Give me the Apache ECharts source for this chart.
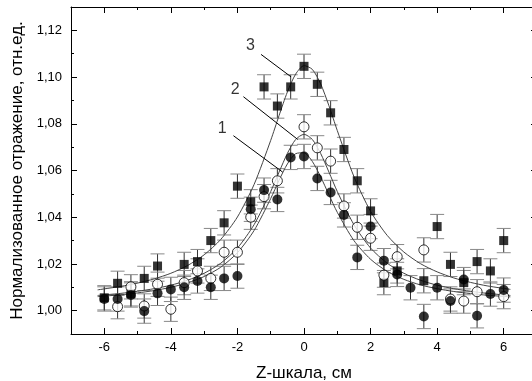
<!DOCTYPE html>
<html>
<head>
    <meta charset="utf-8" />
    <title>Нормализованное отражение</title>
    <script src="https://cdn.jsdelivr.net/npm/echarts@6/dist/echarts.min.js"></script>
    <style>
        html, body { margin: 0; padding: 0; background: #fff; }
    </style>
</head>
<body>
<div id="main" style="width: 532px;height:381px;"></div>
<script type="text/javascript">
    // Z positions of the measured points, cm
    var zPos = [-6, -5.6, -5.2, -4.8, -4.4, -4.0, -3.6, -3.2, -2.8, -2.4, -2.0, -1.6, -1.2, -0.8, -0.4,
        0, 0.4, 0.8, 1.2, 1.6, 2.0, 2.4, 2.8, 3.2, 3.6, 4.0, 4.4, 4.8, 5.2, 5.6, 6.0];
    // 1 - filled circles
    var curve1Pts = [1.0050, 1.0050, 1.0067, 0.9998, 1.0074, 1.0091, 1.0100, 1.0127, 1.0100, 1.0138, 1.0148, 1.0434, 1.0516, 1.0476, 1.0656,
        1.0660, 1.0566, 1.0506, 1.0410, 1.0228, 1.0360, 1.0214, 1.0155, 1.0098, 0.9975, 1.0098, 1.0041, 1.0133, 0.9978, 1.0071, 1.0088];
    // 2 - open circles
    var curve2Pts = [null, 1.0017, 1.0102, 1.0020, 1.0113, 1.0006, 1.0120, 1.0170, 1.0138, 1.0250, 1.0250, 1.0400, 1.0488, 1.0556, null,
        1.0787, 1.0697, 1.0640, 1.0448, 1.0357, 1.0310, 1.0152, 1.0231, null, 1.0260, null, 1.0050, 1.0041, 1.0081, null, 1.0060];
    // 3 - squares
    var curve3Pts = [1.0055, 1.0117, 1.0072, 1.0138, 1.0191, null, 1.0198, 1.0210, 1.0300, 1.0376, 1.0533, 1.0466, 1.0958, 1.0876, 1.0958,
        1.1046, 1.0969, 1.0847, 1.0690, 1.0556, 1.0427, 1.0120, 1.0170, null, 1.0128, 1.0360, 1.0198, 1.0120, 1.0210, 1.0170, 1.0300];
    var errBar = 0.0052;

    // fitted curves
    var fitX = [-6.2, -5.5, -5, -4.5, -4, -3.5, -3, -2.5, -2, -1.5, -1, -0.75, -0.5, -0.25, 0, 0.25, 0.5, 0.75,
        1, 1.5, 2, 2.5, 3, 3.5, 4, 4.5, 5, 5.5, 6.2];
    var fit1 = [1.0060, 1.0068, 1.0076, 1.0086, 1.0100, 1.0119, 1.0146, 1.0186, 1.0248, 1.0343, 1.0480, 1.0558, 1.0628, 1.0672, 1.0676, 1.0639, 1.0573, 1.0496,
        1.0421, 1.0300, 1.0220, 1.0168, 1.0134, 1.0110, 1.0094, 1.0082, 1.0073, 1.0066, 1.0059];
    var fit2 = [1.0065, 1.0074, 1.0083, 1.0094, 1.0109, 1.0130, 1.0160, 1.0203, 1.0268, 1.0368, 1.0510, 1.0593, 1.0673, 1.0733, 1.0755, 1.0733, 1.0673, 1.0593,
        1.0510, 1.0368, 1.0268, 1.0203, 1.0160, 1.0130, 1.0109, 1.0094, 1.0083, 1.0074, 1.0065];
    var fit3 = [1.0089, 1.0104, 1.0118, 1.0136, 1.0160, 1.0193, 1.0239, 1.0305, 1.0401, 1.0540, 1.0729, 1.0835, 1.0936, 1.1013, 1.1049, 1.1033, 1.0971, 1.0877,
        1.0771, 1.0574, 1.0425, 1.0322, 1.0251, 1.0201, 1.0166, 1.0140, 1.0121, 1.0106, 1.0091];

    // curve numbers with leader lines: text pos, line start, line end
    var tagNames = ['1', '2', '3'];
    var tagText = [[-2.46, 1.0780], [-2.07, 1.0947], [-1.61, 1.1133]];
    var tagFrom = [[-2.12, 1.0749], [-1.82, 1.0916], [-1.29, 1.1097]];
    var tagTo = [[-0.64, 1.0593], [-0.19, 1.0733], [-0.39, 1.1001]];

    // axis ticks
    var xMajor = [-6, -4, -2, 0, 2, 4, 6];
    var xMinor = [-5, -3, -1, 1, 3, 5];
    var yMajor = [1.00, 1.02, 1.04, 1.06, 1.08, 1.10, 1.12];
    var yMinor = [1.01, 1.03, 1.05, 1.07, 1.09, 1.11];

    var FONT = 'Liberation Sans, Arial, sans-serif';

    function pairs(xs, ys) {
        var out = [];
        for (var i = 0; i < xs.length; i++) {
            if (ys[i] !== null) out.push([xs[i], ys[i]]);
        }
        return out;
    }
    function errData(ys) {
        var out = [];
        for (var i = 0; i < zPos.length; i++) {
            if (ys[i] !== null) out.push([zPos[i], ys[i], errBar]);
        }
        return out;
    }
    function renderErr(params, api) {
        var x = api.value(0), y = api.value(1), e = api.value(2);
        var top = api.coord([x, y + e]);
        var bot = api.coord([x, y - e]);
        var hw = 7;
        return {
            type: 'group',
            children: [
                {type: 'line', shape: {x1: top[0], y1: top[1], x2: bot[0], y2: bot[1]}, style: {stroke: '#333', lineWidth: 1}},
                {type: 'line', shape: {x1: top[0] - hw, y1: top[1], x2: top[0] + hw, y2: top[1]}, style: {stroke: '#888', lineWidth: 1}},
                {type: 'line', shape: {x1: bot[0] - hw, y1: bot[1], x2: bot[0] + hw, y2: bot[1]}, style: {stroke: '#888', lineWidth: 1}}
            ]
        };
    }

    function xAx(pos, major, labels) {
        return {
            type: 'value', position: pos, min: -7, max: 7, interval: 1,
            axisLine: {show: major, onZero: false, lineStyle: {color: '#000', width: 1}},
            axisTick: {show: true, inside: true, length: major ? 6 : 3, customValues: major ? xMajor : xMinor,
                lineStyle: {color: '#000'}},
            axisLabel: {show: labels, customValues: xMajor, color: '#000', fontSize: 13, fontFamily: FONT, margin: 7},
            splitLine: {show: false},
            name: labels ? 'Z-шкала, см' : '',
            nameLocation: 'middle', nameGap: 31,
            nameTextStyle: {color: '#000', fontSize: 17, fontFamily: FONT}
        };
    }
    function yAx(pos, major, labels) {
        return {
            type: 'value', position: pos, min: 0.99, max: 1.13, interval: 0.01,
            axisLine: {show: major, onZero: false, lineStyle: {color: '#000', width: 1}},
            axisTick: {show: true, inside: true, length: major ? 6 : 3, customValues: major ? yMajor : yMinor,
                lineStyle: {color: '#000'}},
            axisLabel: {show: labels, customValues: yMajor, color: '#000', fontSize: 13, fontFamily: FONT, margin: 9,
                formatter: function (v) { return v.toFixed(2).replace('.', ','); }},
            splitLine: {show: false},
            name: labels ? 'Нормализованное отражение, отн.ед.' : '',
            nameLocation: 'middle', nameGap: 37,
            nameTextStyle: {color: '#000', fontSize: 17, fontFamily: FONT}
        };
    }

    var series = [];
    [curve3Pts, curve2Pts, curve1Pts].forEach(function (ys) {
        series.push({type: 'custom', renderItem: renderErr, data: errData(ys), encode: {x: 0, y: 1}, silent: true, z: 2});
    });
    [fit1, fit2, fit3].forEach(function (ys) {
        series.push({type: 'line', data: pairs(fitX, ys), smooth: 0.25, symbol: 'none',
            lineStyle: {color: '#444', width: 1}, silent: true, z: 3});
    });
    series.push({type: 'scatter', data: pairs(zPos, curve3Pts), symbol: 'rect', symbolSize: 9,
        itemStyle: {color: '#000'}, z: 4});
    series.push({type: 'scatter', data: pairs(zPos, curve2Pts), symbol: 'circle', symbolSize: 10,
        itemStyle: {color: '#fff', borderColor: '#000', borderWidth: 1}, z: 4});
    series.push({type: 'scatter', data: pairs(zPos, curve1Pts), symbol: 'circle', symbolSize: 10,
        itemStyle: {color: '#000'}, z: 4});
    for (var k = 0; k < tagNames.length; k++) {
        series.push({type: 'line', data: [tagFrom[k], tagTo[k]], symbol: 'none',
            lineStyle: {color: '#000', width: 1}, silent: true, z: 5});
        series.push({type: 'scatter', data: [tagText[k]], symbolSize: 0, silent: true, z: 5,
            label: {show: true, position: 'inside', formatter: tagNames[k], color: '#000', fontSize: 16, fontFamily: FONT}});
    }

    var myChart = echarts.init(document.getElementById('main'));
    var option = {
        animation: false,
        backgroundColor: '#fff',
        grid: {left: 71, top: 7, width: 466, height: 327, outerBoundsMode: 'none', containLabel: false},
        xAxis: [xAx('bottom', true, true), xAx('bottom', false, false), xAx('top', true, false), xAx('top', false, false)],
        yAxis: [yAx('left', true, true), yAx('left', false, false), yAx('right', true, false), yAx('right', false, false)],
        series: series
    };
    myChart.setOption(option);
</script>
</body>
</html>
